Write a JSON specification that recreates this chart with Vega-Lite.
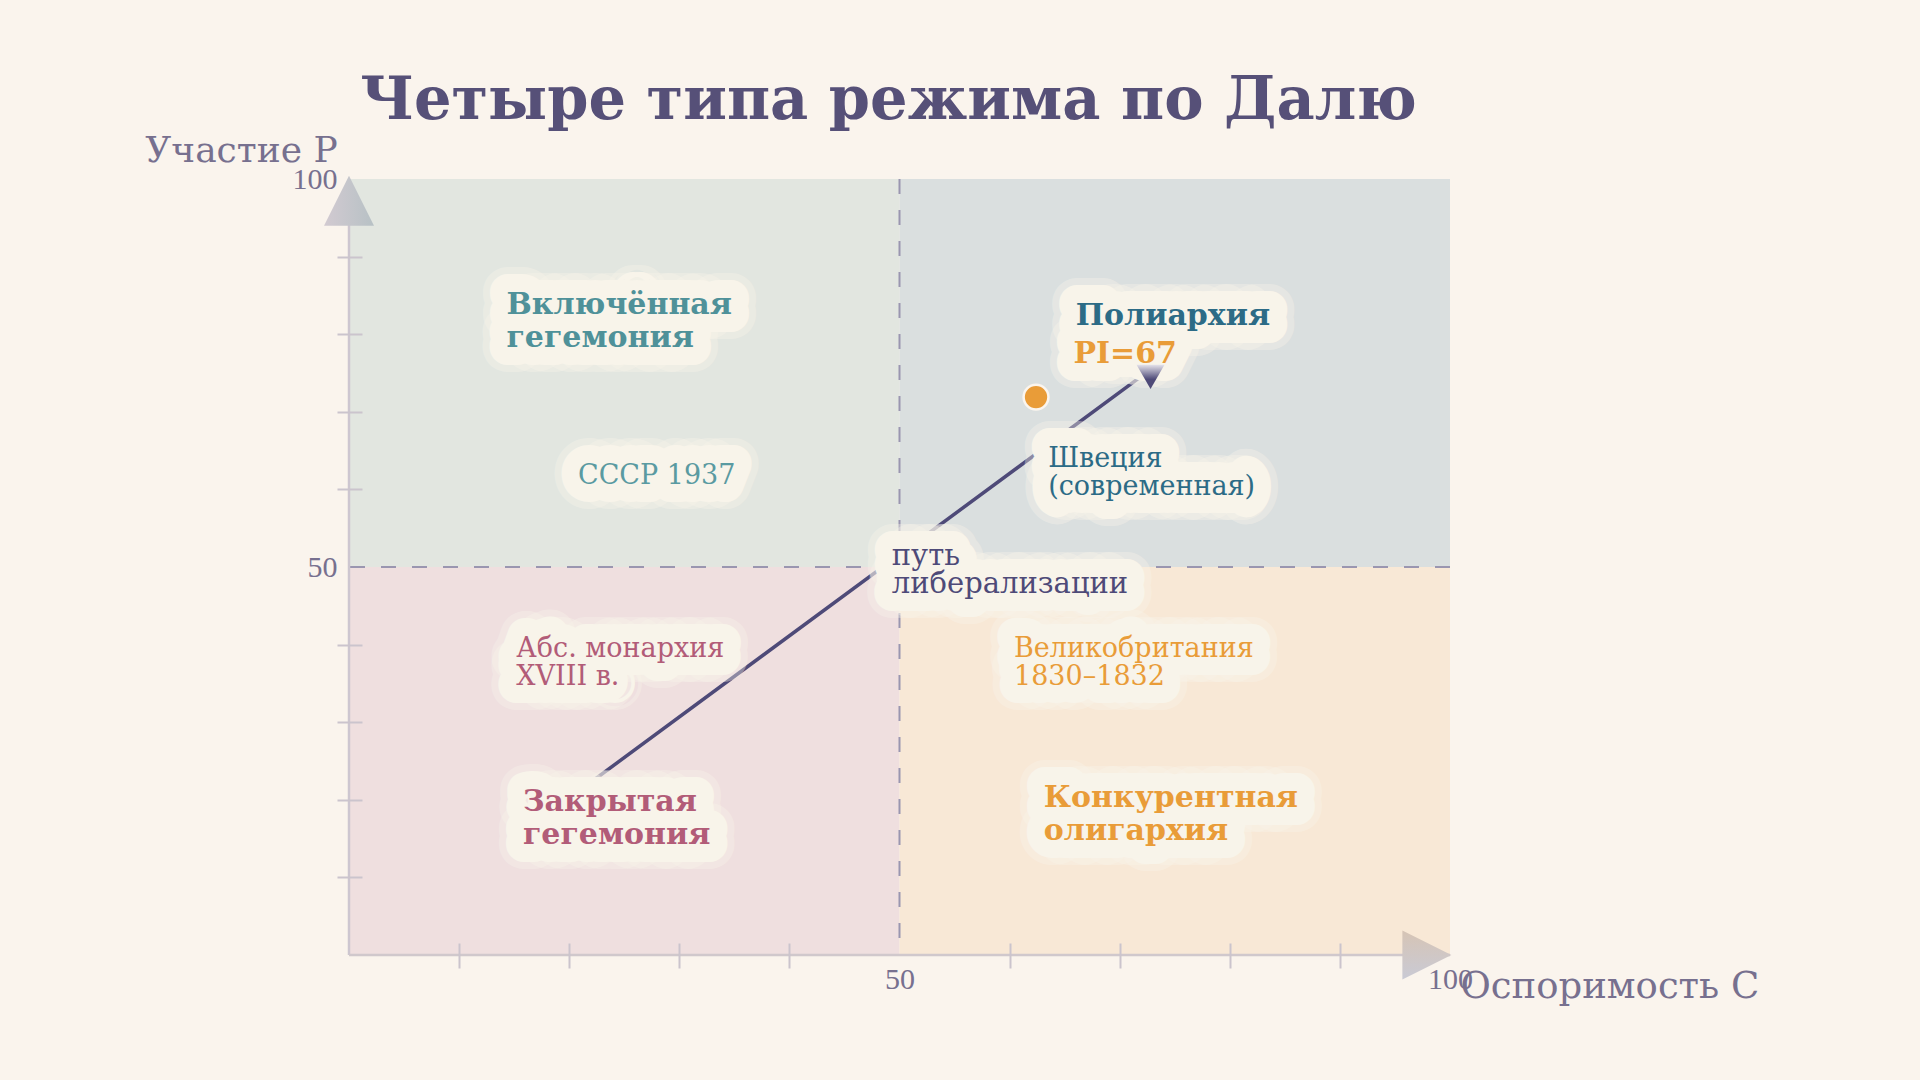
{
  "$schema": "https://vega.github.io/schema/vega-lite/v6.json",
  "width": 1101,
  "height": 776,
  "autosize": "none",
  "padding": {"left": 349, "top": 179, "right": 470, "bottom": 125},
  "background": "#faf4ed",
  "config": {"view": {"stroke": null}, "font": "DejaVu Serif"},
  "title": {
    "text": "Четыре типа режима по Далю",
    "font": "DejaVu Serif",
    "fontSize": 59,
    "fontWeight": "bold",
    "color": "#565078",
    "anchor": "middle",
    "frame": "group",
    "baseline": "alphabetic",
    "dx": -11,
    "dy": 37,
    "offset": -9
  },
  "datasets": {
    "quads": [
      {"C": 0, "C2": 50, "P": 50, "P2": 100, "q": "tl"},
      {"C": 50, "C2": 100, "P": 50, "P2": 100, "q": "tr"},
      {"C": 0, "C2": 50, "P": 0, "P2": 50, "q": "bl"},
      {"C": 50, "C2": 100, "P": 0, "P2": 50, "q": "br"}
    ],
    "one": [{}],
    "path": [
      {"C": 21.9, "P": 22.2},
      {"C": 71.8, "P": 74.4}
    ],
    "sweden": [
      {"C": 62.4, "P": 71.9, "country": "Швеция", "PI": 67}
    ],
    "labels": [
      {"label": "Включённая\nгегемония", "C": 14.3, "P": 82.6, "group": "inclusive", "kind": "regime"},
      {"label": "СССР 1937", "C": 20.8, "P": 60.7, "group": "inclusive", "kind": "example"},
      {"label": "Полиархия", "C": 66.0, "P": 81.2, "group": "polyarchy", "kind": "regime"},
      {"label": "PI=67", "C": 65.8, "P": 76.3, "group": "pi", "kind": "pi"},
      {"label": "Швеция\n(современная)", "C": 63.5, "P": 62.9, "group": "polyarchy", "kind": "example"},
      {"label": "путь\nлиберализации", "C": 49.3, "P": 50.3, "group": "path", "kind": "path"},
      {"label": "Абс. монархия\nXVIII в.", "C": 15.2, "P": 38.4, "group": "closed", "kind": "example"},
      {"label": "Великобритания\n1830–1832", "C": 60.4, "P": 38.4, "group": "oligarchy", "kind": "example"},
      {"label": "Закрытая\nгегемония", "C": 15.8, "P": 18.6, "group": "closed", "kind": "regime"},
      {"label": "Конкурентная\nолигархия", "C": 63.1, "P": 19.1, "group": "oligarchy", "kind": "regime"}
    ]
  },
  "resolve": {"scale": {"color": "independent"}},
  "layer": [
    {
      "data": {"name": "quads"},
      "mark": {"type": "rect"},
      "encoding": {
        "x": {
          "field": "C", "type": "quantitative",
          "scale": {"domain": [0, 100], "nice": false, "zero": false},
          "axis": {
            "title": "Оспоримость C",
            "titleAlign": "left", "titleBaseline": "alphabetic",
            "titleX": 1111, "titleY": 54,
            "titleFont": "DejaVu Serif", "titleFontSize": 37, "titleFontWeight": "normal", "titleColor": "#77708f",
            "values": [10, 20, 30, 40, 50, 60, 70, 80, 90, 100],
            "labelExpr": "datum.value == 50 || datum.value == 100 ? datum.label : ''",
            "labelFont": "Liberation Serif", "labelFontSize": 30, "labelColor": "#77708f",
            "labelPadding": -4, "labelBaseline": "top", "labelAlign": "center",
            "labelFlush": false, "labelOverlap": false, "labelBound": false,
            "tickSize": 25, "tickWidth": 2, "tickColor": "#cbc4cd",
            "tickOpacity": {"condition": {"test": "datum.value == 50 || datum.value == 100", "value": 0}, "value": 1},
            "offset": -12, "domain": false, "grid": false, "zindex": 1
          }
        },
        "x2": {"field": "C2"},
        "y": {
          "field": "P", "type": "quantitative",
          "scale": {"domain": [0, 100], "nice": false, "zero": false},
          "axis": {
            "title": "Участие P",
            "titleAngle": 0, "titleAlign": "center", "titleBaseline": "alphabetic",
            "titleX": -121, "titleY": -18,
            "titleFont": "DejaVu Serif", "titleFontSize": 36, "titleFontWeight": "normal", "titleColor": "#77708f",
            "values": [10, 20, 30, 40, 50, 60, 70, 80, 90, 100],
            "labelExpr": "datum.value == 50 || datum.value == 100 ? datum.label : ''",
            "labelFont": "Liberation Serif", "labelFontSize": 30, "labelColor": "#77708f",
            "labelPadding": 0, "labelBaseline": "middle", "labelAlign": "right",
            "labelFlush": false, "labelOverlap": false, "labelBound": false,
            "tickSize": 25, "tickWidth": 2, "tickColor": "#cbc4cd",
            "tickOpacity": {"condition": {"test": "datum.value == 50 || datum.value == 100", "value": 0}, "value": 1},
            "offset": -13, "domain": false, "grid": false, "zindex": 1
          }
        },
        "y2": {"field": "P2"},
        "color": {
          "field": "q", "type": "nominal", "legend": null,
          "scale": {"domain": ["tl", "tr", "bl", "br"], "range": ["#e2e6e0", "#dadfdf", "#efdfdf", "#f8e8d6"]}
        }
      }
    },
    {
      "data": {"name": "one"},
      "mark": {"type": "rule", "color": "#9a96b0", "strokeWidth": 2, "strokeDash": [15, 16]},
      "encoding": {"x": {"datum": 50, "type": "quantitative"}}
    },
    {
      "data": {"name": "one"},
      "mark": {"type": "rule", "color": "#9a96b0", "strokeWidth": 2, "strokeDash": [15, 16]},
      "encoding": {"y": {"datum": 50, "type": "quantitative"}}
    },
    {
      "data": {"name": "one"},
      "mark": {"type": "rule", "color": "#cdc6d0", "strokeWidth": 2.5},
      "encoding": {"x": {"datum": 0, "type": "quantitative"}}
    },
    {
      "data": {"name": "one"},
      "mark": {"type": "rule", "color": "#d0c8cc", "strokeWidth": 2.5},
      "encoding": {"y": {"datum": 0, "type": "quantitative"}}
    },
    {
      "data": {"name": "path"},
      "mark": {"type": "line", "color": "#4e4a78", "strokeWidth": 3.5, "strokeCap": "round"},
      "encoding": {
        "x": {"field": "C", "type": "quantitative"},
        "y": {"field": "P", "type": "quantitative"}
      }
    },
    {
      "data": {"name": "sweden"},
      "mark": {"type": "point", "shape": "circle", "filled": true, "size": 616, "color": "#e99c38", "stroke": "#fbf5ee", "strokeWidth": 2.5, "opacity": 1},
      "encoding": {
        "x": {"field": "C", "type": "quantitative"},
        "y": {"field": "P", "type": "quantitative"}
      }
    },
    {
      "data": {"name": "labels"},
      "transform": [{"filter": "datum.kind == 'regime'"}],
      "mark": {"type": "text", "align": "left", "baseline": "alphabetic", "lineBreak": "\n", "fontSize": 30, "fontWeight": "bold", "lineHeight": 33, "fill": "#f8f4ea", "fillOpacity": 0.4, "stroke": "#f8f4ea", "strokeOpacity": 0.4, "strokeWidth": 50, "strokeJoin": "round"},
      "encoding": {
        "x": {"field": "C", "type": "quantitative"},
        "y": {"field": "P", "type": "quantitative"},
        "text": {"field": "label"}
      }
    },
    {
      "data": {"name": "labels"},
      "transform": [{"filter": "datum.kind == 'example'"}],
      "mark": {"type": "text", "align": "left", "baseline": "alphabetic", "lineBreak": "\n", "fontSize": 27, "lineHeight": 28, "letterSpacing": 1.5, "fill": "#f8f4ea", "fillOpacity": 0.4, "stroke": "#f8f4ea", "strokeOpacity": 0.4, "strokeWidth": 50, "strokeJoin": "round"},
      "encoding": {
        "x": {"field": "C", "type": "quantitative"},
        "y": {"field": "P", "type": "quantitative"},
        "text": {"field": "label"}
      }
    },
    {
      "data": {"name": "labels"},
      "transform": [{"filter": "datum.kind == 'path'"}],
      "mark": {"type": "text", "align": "left", "baseline": "alphabetic", "lineBreak": "\n", "fontSize": 29, "lineHeight": 28, "letterSpacing": 0.7, "fill": "#f8f4ea", "fillOpacity": 0.4, "stroke": "#f8f4ea", "strokeOpacity": 0.4, "strokeWidth": 50, "strokeJoin": "round"},
      "encoding": {
        "x": {"field": "C", "type": "quantitative"},
        "y": {"field": "P", "type": "quantitative"},
        "text": {"field": "label"}
      }
    },
    {
      "data": {"name": "labels"},
      "transform": [{"filter": "datum.kind == 'pi'"}],
      "mark": {"type": "text", "align": "left", "baseline": "alphabetic", "fontSize": 30, "fontWeight": "bold", "fill": "#f8f4ea", "fillOpacity": 0.4, "stroke": "#f8f4ea", "strokeOpacity": 0.4, "strokeWidth": 50, "strokeJoin": "round"},
      "encoding": {
        "x": {"field": "C", "type": "quantitative"},
        "y": {"field": "P", "type": "quantitative"},
        "text": {"field": "label"}
      }
    },
    {
      "data": {"name": "labels"},
      "transform": [{"filter": "datum.kind == 'regime'"}],
      "mark": {"type": "text", "align": "left", "baseline": "alphabetic", "lineBreak": "\n", "fontSize": 30, "fontWeight": "bold", "lineHeight": 33, "fill": "#f8f4ea", "stroke": "#f8f4ea", "strokeWidth": 36, "strokeJoin": "round"},
      "encoding": {
        "x": {"field": "C", "type": "quantitative"},
        "y": {"field": "P", "type": "quantitative"},
        "text": {"field": "label"}
      }
    },
    {
      "data": {"name": "labels"},
      "transform": [{"filter": "datum.kind == 'example'"}],
      "mark": {"type": "text", "align": "left", "baseline": "alphabetic", "lineBreak": "\n", "fontSize": 27, "lineHeight": 28, "letterSpacing": 1.5, "fill": "#f8f4ea", "stroke": "#f8f4ea", "strokeWidth": 36, "strokeJoin": "round"},
      "encoding": {
        "x": {"field": "C", "type": "quantitative"},
        "y": {"field": "P", "type": "quantitative"},
        "text": {"field": "label"}
      }
    },
    {
      "data": {"name": "labels"},
      "transform": [{"filter": "datum.kind == 'path'"}],
      "mark": {"type": "text", "align": "left", "baseline": "alphabetic", "lineBreak": "\n", "fontSize": 29, "lineHeight": 28, "letterSpacing": 0.7, "fill": "#f8f4ea", "stroke": "#f8f4ea", "strokeWidth": 36, "strokeJoin": "round"},
      "encoding": {
        "x": {"field": "C", "type": "quantitative"},
        "y": {"field": "P", "type": "quantitative"},
        "text": {"field": "label"}
      }
    },
    {
      "data": {"name": "labels"},
      "transform": [{"filter": "datum.kind == 'pi'"}],
      "mark": {"type": "text", "align": "left", "baseline": "alphabetic", "fontSize": 30, "fontWeight": "bold", "fill": "#f8f4ea", "stroke": "#f8f4ea", "strokeWidth": 36, "strokeJoin": "round"},
      "encoding": {
        "x": {"field": "C", "type": "quantitative"},
        "y": {"field": "P", "type": "quantitative"},
        "text": {"field": "label"}
      }
    },
    {
      "data": {"name": "one"},
      "mark": {"type": "point", "shape": "triangle-down", "filled": true, "size": 784, "opacity": 1,
        "fill": {"gradient": "linear", "x1": 0, "y1": 0, "x2": 0, "y2": 1, "stops": [{"offset": 0, "color": "#e4e2ea"}, {"offset": 0.6, "color": "#4e4a78"}, {"offset": 1, "color": "#4e4a78"}]}},
      "encoding": {
        "x": {"datum": 72.8, "type": "quantitative"},
        "y": {"datum": 74.5, "type": "quantitative"}
      }
    },
    {
      "data": {"name": "labels"},
      "transform": [{"filter": "datum.kind == 'regime'"}],
      "mark": {"type": "text", "align": "left", "baseline": "alphabetic", "lineBreak": "\n", "fontSize": 30, "fontWeight": "bold", "lineHeight": 33},
      "encoding": {
        "x": {"field": "C", "type": "quantitative"},
        "y": {"field": "P", "type": "quantitative"},
        "text": {"field": "label"},
        "color": {"field": "group", "type": "nominal", "legend": null,
          "scale": {"domain": ["inclusive", "polyarchy", "closed", "oligarchy", "path", "pi"], "range": ["#4f9199", "#2c6b86", "#b25c78", "#e99c38", "#4e4a78", "#e99c38"]}}
      }
    },
    {
      "data": {"name": "labels"},
      "transform": [{"filter": "datum.kind == 'example'"}],
      "mark": {"type": "text", "align": "left", "baseline": "alphabetic", "lineBreak": "\n", "fontSize": 27, "lineHeight": 28, "letterSpacing": 1.5},
      "encoding": {
        "x": {"field": "C", "type": "quantitative"},
        "y": {"field": "P", "type": "quantitative"},
        "text": {"field": "label"},
        "color": {"field": "group", "type": "nominal", "legend": null,
          "scale": {"domain": ["inclusive", "polyarchy", "closed", "oligarchy", "path", "pi"], "range": ["#5a9aa1", "#2c6b86", "#b25c78", "#e99c38", "#4e4a78", "#e99c38"]}}
      }
    },
    {
      "data": {"name": "labels"},
      "transform": [{"filter": "datum.kind == 'path'"}],
      "mark": {"type": "text", "align": "left", "baseline": "alphabetic", "lineBreak": "\n", "fontSize": 29, "lineHeight": 28, "letterSpacing": 0.7},
      "encoding": {
        "x": {"field": "C", "type": "quantitative"},
        "y": {"field": "P", "type": "quantitative"},
        "text": {"field": "label"},
        "color": {"field": "group", "type": "nominal", "legend": null,
          "scale": {"domain": ["inclusive", "polyarchy", "closed", "oligarchy", "path", "pi"], "range": ["#4f9199", "#2c6b86", "#b25c78", "#e99c38", "#4e4a78", "#e99c38"]}}
      }
    },
    {
      "data": {"name": "labels"},
      "transform": [{"filter": "datum.kind == 'pi'"}],
      "mark": {"type": "text", "align": "left", "baseline": "alphabetic", "fontSize": 30, "fontWeight": "bold"},
      "encoding": {
        "x": {"field": "C", "type": "quantitative"},
        "y": {"field": "P", "type": "quantitative"},
        "text": {"field": "label"},
        "color": {"field": "group", "type": "nominal", "legend": null,
          "scale": {"domain": ["inclusive", "polyarchy", "closed", "oligarchy", "path", "pi"], "range": ["#4f9199", "#2c6b86", "#b25c78", "#e99c38", "#4e4a78", "#e99c38"]}}
      }
    },
    {
      "data": {"name": "one"},
      "mark": {"type": "point", "shape": "M0,-1L1,1L-1,1Z", "filled": true, "size": 2500, "opacity": 1,
        "fill": {"gradient": "linear", "x1": 0, "y1": 0, "x2": 1, "y2": 0, "stops": [{"offset": 0, "color": "#d2cad1"}, {"offset": 1, "color": "#b7c1c5"}]}},
      "encoding": {
        "x": {"datum": 0, "type": "quantitative"},
        "y": {"datum": 97.2, "type": "quantitative"}
      }
    },
    {
      "data": {"name": "one"},
      "mark": {"type": "point", "shape": "M-1,-1L1,0L-1,1Z", "filled": true, "size": 2400, "opacity": 1,
        "fill": {"gradient": "linear", "x1": 0, "y1": 0, "x2": 0, "y2": 1, "stops": [{"offset": 0, "color": "#d6c4b5"}, {"offset": 1, "color": "#c9cad5"}]}},
      "encoding": {
        "x": {"datum": 97.9, "type": "quantitative"},
        "y": {"datum": 0, "type": "quantitative"}
      }
    }
  ]
}
